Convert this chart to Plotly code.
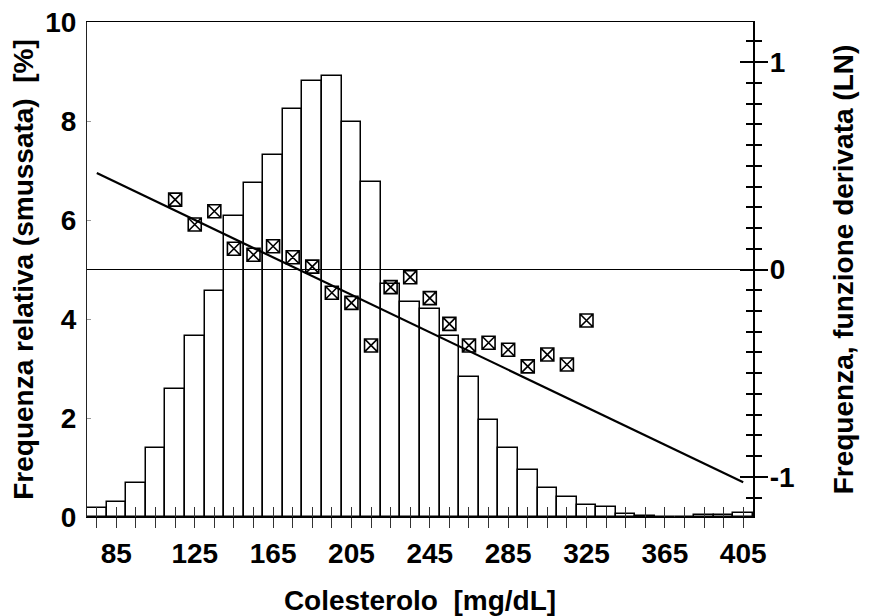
import plotly.graph_objects as go

# Histogram: bin centres (mg/dL) and relative frequency (%)
bin_centers = [75, 85, 95, 105, 115, 125, 135, 145, 155, 165, 175, 185, 195, 205, 215,
               225, 235, 245, 255, 265, 275, 285, 295, 305, 315, 325, 335, 345, 355,
               365, 375, 385, 395, 405]
freq_pct = [0.18, 0.31, 0.68, 1.39, 2.59, 3.65, 4.57, 6.09, 6.75, 7.31, 8.24, 8.81, 8.90,
            7.97, 6.77, 4.70, 4.34, 4.20, 3.66, 2.83, 1.96, 1.39, 0.95, 0.59, 0.40, 0.25,
            0.20, 0.06, 0.03, 0.0, 0.0, 0.04, 0.05, 0.08]

# Derived function (LN) points
deriv_x = [115, 125, 135, 145, 155, 165, 175, 185, 195, 205, 215, 225, 235, 245, 255,
           265, 275, 285, 295, 305, 315, 325]
deriv_y = [0.337, 0.217, 0.281, 0.100, 0.071, 0.112, 0.059, 0.014, -0.112, -0.161, -0.366,
           -0.085, -0.037, -0.138, -0.262, -0.366, -0.353, -0.387, -0.467, -0.410, -0.458,
           -0.246]

# Regression line end points
fit_x = [75, 405]
fit_y = [0.465, -1.025]

x_tick_labels = [85, 125, 165, 205, 245, 285, 325, 365, 405]

FONT = "Liberation Sans, Arial, Helvetica, sans-serif"
R2 = 1.193

fig = go.Figure()
fig.add_trace(go.Bar(x=bin_centers, y=freq_pct, width=10,
                     marker=dict(color="white", line=dict(color="black", width=1.5)),
                     xaxis="x", yaxis="y", showlegend=False))
fig.add_trace(go.Scatter(x=fit_x, y=fit_y, mode="lines",
                         line=dict(color="black", width=2.2),
                         xaxis="x", yaxis="y2", showlegend=False))
fig.add_trace(go.Scatter(x=deriv_x, y=deriv_y, mode="markers",
                         marker=dict(symbol="square-x-open", size=13, color="black",
                                     line=dict(width=1.6, color="black")),
                         xaxis="x", yaxis="y2", showlegend=False))
# invisible traces to instantiate the overlay axes
fig.add_trace(go.Scatter(x=[None], y=[None], xaxis="x2", yaxis="y", showlegend=False, hoverinfo="skip"))
fig.add_trace(go.Scatter(x=[None], y=[None], xaxis="x", yaxis="y3", showlegend=False, hoverinfo="skip"))

tickfont = dict(family=FONT, size=28, color="black", weight="bold")
titlefont = dict(family=FONT, size=28, color="black", weight="bold")

# page body has an 8px default margin: the figure is sized to fit the 871x616 window
fig.update_layout(
    width=863, height=608,
    margin=dict(l=79, r=118, t=14, b=99),
    paper_bgcolor="white", plot_bgcolor="white",
    font=dict(family=FONT, color="black"),
    bargap=0,
    xaxis=dict(range=[70, 410], tickmode="array", tickvals=x_tick_labels,
               ticktext=[str(v) for v in x_tick_labels],
               ticks="outside", ticklen=10, tickwidth=1.3, tickcolor="#333",
               minor=dict(tickmode="linear", tick0=75, dtick=10, ticks="outside",
                          ticklen=10, tickwidth=1.3, tickcolor="#333"),
               showline=True, linecolor="black", linewidth=1.4, mirror=True,
               showgrid=False, zeroline=False, tickfont=tickfont, automargin=False,
               ticklabelstandoff=1, ticklabeloverflow="allow",
               title=dict(text="Colesterolo  [mg/dL]", font=titlefont, standoff=22)),
    xaxis2=dict(range=[70, 410], overlaying="x", anchor="y", side="bottom",
                tickmode="array", tickvals=x_tick_labels, showticklabels=False,
                ticks="inside", ticklen=10, tickwidth=1.3, tickcolor="#333",
                minor=dict(tickmode="linear", tick0=75, dtick=10, ticks="inside",
                           ticklen=10, tickwidth=1.3, tickcolor="#333"),
                showline=False, showgrid=False, zeroline=False, automargin=False),
    yaxis=dict(range=[0, 10], tickmode="linear", tick0=0, dtick=2,
               ticks="inside", ticklen=4, tickwidth=1, tickcolor="#999",
               showline=True, linecolor="#222", linewidth=1.2,
               showgrid=False, zeroline=False, tickfont=tickfont, automargin=False,
               ticklabelstandoff=4, ticklabeloverflow="allow",
               title=dict(text="Frequenza relativa (smussata)  [%]", font=titlefont, standoff=3)),
    yaxis2=dict(range=[-R2, R2], overlaying="y", side="right", anchor="x",
                tickmode="array", tickvals=[-1, 0, 1], ticktext=["-1", "0", "1"],
                ticks="outside", ticklen=13, tickwidth=1.6, tickcolor="black",
                minor=dict(tickmode="linear", tick0=0, dtick=0.1, ticks="outside",
                           ticklen=7, tickwidth=1.5, tickcolor="black"),
                showline=True, linecolor="black", linewidth=2.2,
                showgrid=False, zeroline=False, tickfont=tickfont, automargin=False,
                ticklabeloverflow="allow", ticklabelstandoff=-4,
                title=dict(text="Frequenza, funzione derivata (LN)", font=titlefont, standoff=40)),
    yaxis3=dict(range=[-R2, R2], overlaying="y", side="right", anchor="x",
                tickmode="array", tickvals=[-1, 0, 1], showticklabels=False,
                ticks="inside", ticklen=13, tickwidth=1.6, tickcolor="black",
                minor=dict(tickmode="linear", tick0=0, dtick=0.1, ticks="inside",
                           ticklen=7, tickwidth=1.5, tickcolor="black"),
                showline=False, showgrid=False, zeroline=False, automargin=False),
    shapes=[dict(type="line", xref="paper", x0=0, x1=1, yref="y2", y0=0, y1=0,
                 line=dict(color="black", width=1.2), layer="above")],
)

fig.write_html("out.html")
